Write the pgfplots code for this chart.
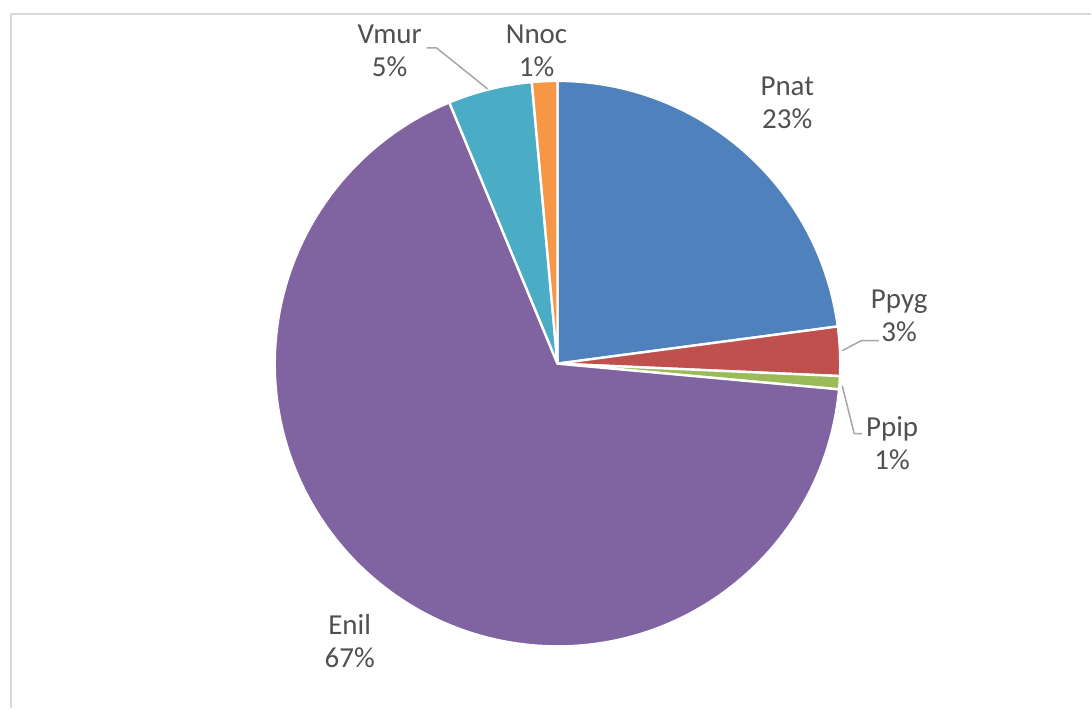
\documentclass[border=0pt]{standalone}
\usepackage{pgfplots}
\usepackage{pgfplotstable}
\pgfplotsset{compat=1.18}
\usepackage{fontspec}
\setmainfont{Carlito}

\definecolor{slice0}{HTML}{4F81BD}
\definecolor{slice1}{HTML}{C0504D}
\definecolor{slice2}{HTML}{9BBB59}
\definecolor{slice3}{HTML}{8064A2}
\definecolor{slice4}{HTML}{4BACC6}
\definecolor{slice5}{HTML}{F79646}
\definecolor{lbl}{HTML}{505050}
\definecolor{leader}{HTML}{A6A6A6}
\definecolor{frame}{HTML}{D9D9D9}

% share of each species (%), clockwise from 12 o'clock
\pgfplotstableread{
species value
Pnat    22.9
Ppyg    2.8
Ppip    0.75
Enil    67.3
Vmur    4.8
Nnoc    1.45
}\piedata

% pie centre and radius in axis units (1 unit = 0.5pt)
\def\cx{558}
\def\cy{345}
\def\R{283}

% cumulative start/end angles of each slice
\def\cumsum{0}%
\foreach \i in {0,...,5}{%
  \pgfplotstablegetelem{\i}{value}\of\piedata
  \pgfmathsetmacro\sa{90-3.6*\cumsum}%
  \pgfmathsetmacro\newcum{\cumsum+\pgfplotsretval}%
  \pgfmathsetmacro\ea{90-3.6*\newcum}%
  \pgfmathsetmacro\sx{\cx+\R*cos(\sa)}%
  \pgfmathsetmacro\sy{\cy+\R*sin(\sa)}%
  \expandafter\xdef\csname sa\i\endcsname{\sa}%
  \expandafter\xdef\csname ea\i\endcsname{\ea}%
  \expandafter\xdef\csname sx\i\endcsname{\sx}%
  \expandafter\xdef\csname sy\i\endcsname{\sy}%
  \xdef\cumsum{\newcum}%
}

% two-line data label, baselines given in axis units
\newcommand\plabel[4]{%
  \node[anchor=base, text=lbl, inner sep=0pt] at (axis cs:#1,#2) {#3};
  \node[anchor=base, text=lbl, inner sep=0pt] at (axis cs:#1,#2-33) {#4};
}

\begin{document}
\begin{tikzpicture}
\begin{axis}[
    x=0.5pt, y=0.5pt,
    xmin=0, xmax=1092, ymin=0, ymax=709,
    hide axis,
    clip=false,
    font=\fontsize{14.5}{17}\selectfont,
]
\path (axis cs:0,0) rectangle (axis cs:1092,709);
% chart area frame (only top and left edges visible)
\draw[frame, line width=1pt] (axis cs:11.5,0) -- (axis cs:11.5,695) -- (axis cs:1092,695);

\pgfplotsinvokeforeach{0,1,2,3,4,5}{%
  \fill[fill=slice#1, draw=white, line width=1.2pt, line join=round]
    (axis cs:\cx,\cy) -- (axis cs:\csname sx#1\endcsname,\csname sy#1\endcsname)
    arc[start angle=\csname sa#1\endcsname, end angle=\csname ea#1\endcsname, radius=141.5pt]
    -- cycle;
}

% leader lines
\draw[leader, line width=0.75pt] (axis cs:427,661) -- (axis cs:437,661) -- (axis cs:488,620);
\draw[leader, line width=0.75pt] (axis cs:843,358) -- (axis cs:862,368) -- (axis cs:880,368);
\draw[leader, line width=0.75pt] (axis cs:843,323) -- (axis cs:855,275) -- (axis cs:863,275);

\plabel{788}{613}{Pnat}{23\%}
\plabel{900}{400}{Ppyg}{3\%}
\plabel{893}{272}{Ppip}{1\%}
\plabel{350}{74}{Enil}{67\%}
\plabel{390}{665}{Vmur}{5\%}
\plabel{537}{665}{Nnoc}{1\%}
\end{axis}
\end{tikzpicture}
\end{document}
